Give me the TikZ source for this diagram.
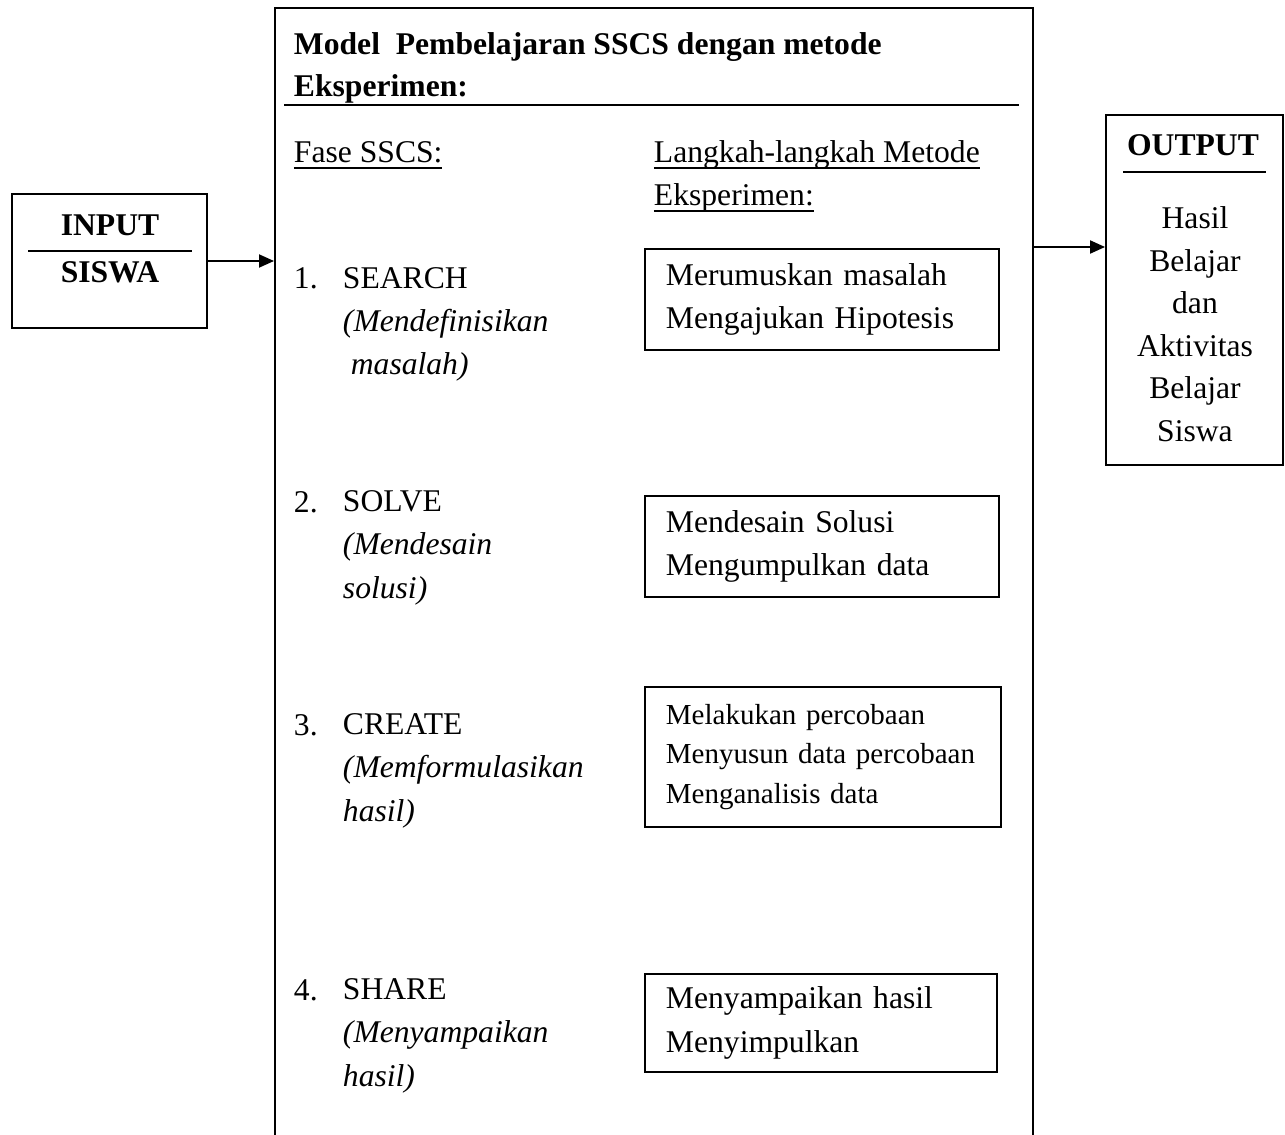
\documentclass[tikz,border=0pt]{standalone}
\usepackage{fontspec}
\setmainfont{Liberation Serif}
\usetikzlibrary{arrows.meta}
\newcommand{\garisbawah}[1]{\leavevmode\setbox0\hbox{#1}\rlap{\rule[-0.12cm]{\wd0}{0.9pt}}\box0}

\begin{document}
\begin{tikzpicture}[x=0.02cm,y=-0.02cm,line width=1.1pt,
  >={Triangle[length=0.3cm,width=0.26cm]},
  teks/.style={inner sep=0pt,anchor=base west,align=left,
    font=\fontsize{18}{24.5}\selectfont},
  kotak/.style={draw,anchor=north west,inner xsep=0.42cm,inner ysep=0pt,
    align=left,font=\fontsize{18}{24.5}\selectfont}]
\useasboundingbox (0,0) rectangle (1285,1135);
% ================= INPUT =================
\node[draw,minimum width=3.9cm,minimum height=2.68cm] (input) at (109.5,261) {};
\node[font=\fontsize{18}{22}\selectfont\bfseries] (inputjudul) at (110,225) {INPUT};
\node[font=\fontsize{18}{22}\selectfont\bfseries] (inputsiswa) at (110,272) {SISWA};
\draw (28,251) -- (192,251);
\coordinate (modelW) at (274,261);
\draw[->] (input.east) -- (modelW);
% ================= model box (open at the bottom) =================
\draw (275,1135) -- (275,8) -- (1033,8) -- (1033,1135);
% multi-line nodes: base = baseline of the last line
\node[teks,font=\fontsize{18}{24.2}\selectfont\bfseries] (judul) at (293,97)
  {Model\ \ Pembelajaran SSCS dengan metode\\Eksperimen:};
\draw[line width=1.3pt] (284,105) -- (1019,105);
\node[teks] (fase) at (293,163) {\garisbawah{Fase SSCS:}};
\node[teks] (langkah) at (653,206)
  {\garisbawah{Langkah-langkah Metode}\\\garisbawah{Eksperimen:}};
% phases, left column
\node[teks] (no1) at (293,289) {1.};
\node[teks] (search) at (342,375)
  {SEARCH\\\textit{(Mendefinisikan}\\\hspace*{0.25em}\textit{masalah)}};
\node[teks] (no2) at (293,512) {2.};
\node[teks] (solve) at (342,598)
  {SOLVE\\\textit{(Mendesain}\\\textit{solusi)}};
\node[teks] (no3) at (293,735) {3.};
\node[teks] (create) at (342,821)
  {CREATE\\\textit{(Memformulasikan}\\\textit{hasil)}};
\node[teks] (no4) at (293,1000) {4.};
\node[teks] (share) at (342,1086)
  {SHARE\\\textit{(Menyampaikan}\\\textit{hasil)}};
% steps of the experiment method, right column
\node[kotak,text width=6.24cm,minimum height=2.02cm] (lk1) at (644,248)
  {Merumuskan masalah\\Mengajukan Hipotesis};
\node[kotak,text width=6.24cm,minimum height=2.02cm] (lk2) at (644,495)
  {Mendesain Solusi\\Mengumpulkan data};
\node[kotak,text width=6.28cm,minimum height=2.8cm,
  font=\fontsize{16.5}{22.5}\selectfont] (lk3) at (644,686)
  {Melakukan percobaan\\Menyusun data percobaan\\Menganalisis data};
\node[kotak,text width=6.2cm,minimum height=1.96cm] (lk4) at (644,973)
  {Menyampaikan hasil\\Menyimpulkan};
% ================= OUTPUT =================
\node[draw,minimum width=3.54cm,minimum height=7cm] (output) at (1194.5,290) {};
\node[font=\fontsize{18}{22}\selectfont\bfseries] (outputjudul) at (1193,145) {OUTPUT};
\draw (1123,172) -- (1266,172);
\node[font=\fontsize{18}{24.2}\selectfont,align=center] (hasil) at (1195,324)
  {Hasil\\Belajar\\dan\\Aktivitas\\Belajar\\Siswa};
\coordinate (modelE) at (1033,247);
\draw[->] (modelE) -- (modelE -| output.west);
\end{tikzpicture}
\end{document}
